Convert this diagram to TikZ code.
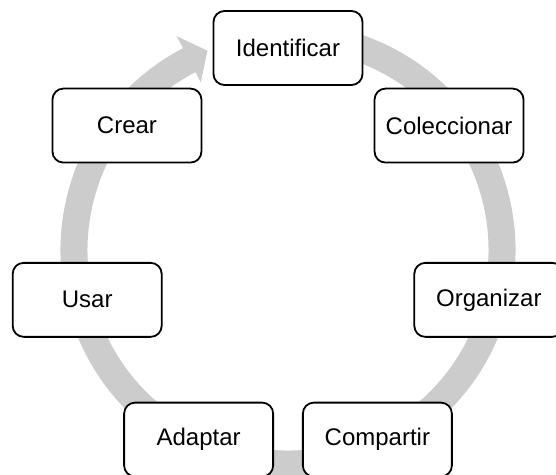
\documentclass[tikz,border=0pt]{standalone}
\usepackage{fontspec}
\setmainfont{Liberation Sans}
\begin{document}
\begin{tikzpicture}[x=1pt,y=1pt,
  stage/.style={draw=black, line width=1.8pt, fill=white, rounded corners=11pt,
    minimum width=149pt, minimum height=74pt, inner sep=0pt,
    font=\fontsize{24}{28}\selectfont},
  ring/.style={fill=black!20}]
\useasboundingbox (0,0) rectangle (556,-474);
\clip (0,0) rectangle (556,-474);

% circular arrow running clockwise behind the stages
\begin{scope}[shift={(288,-250)}]
  \fill[ring] (75:227.5) arc[start angle=75, end angle=-242.5, radius=227.5]
    -- (-242.5:241) -- (-248:215) -- (-242.5:189)
    -- (-242.5:200.5) arc[start angle=-242.5, end angle=75, radius=200.5] -- cycle;
\end{scope}

% stages of the cycle
\begin{scope}[shift={(288,-254)}]
  \node[stage] (identificar) at (90:206)      {Identificar};
  \node[stage] (coleccionar) at (38.57:206)   {Coleccionar};
  \node[stage] (organizar)   at (-12.86:206)  {Organizar};
  \node[stage] (compartir)   at (-64.29:206)  {Compartir};
  \node[stage] (adaptar)     at (-115.71:206) {Adaptar};
  \node[stage] (usar)        at (-167.14:206) {Usar};
  \node[stage] (crear)       at (141.43:206)  {Crear};
\end{scope}
\end{tikzpicture}
\end{document}
